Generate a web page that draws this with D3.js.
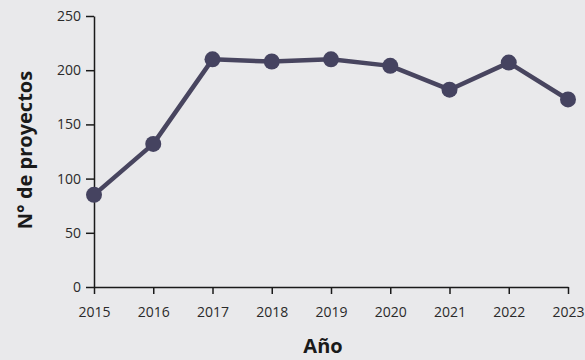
<!DOCTYPE html>
<html><head><meta charset="utf-8">
<script src="https://cdn.jsdelivr.net/npm/d3@7/dist/d3.min.js"></script>
<style>
html,body{margin:0;padding:0;background:#e9e9eb;overflow:hidden;}
svg{display:block;font-family:"Open Sans",sans-serif;}
</style></head>
<body>
<svg id="chart" width="585" height="360"></svg>
<script>
const years = [2015, 2016, 2017, 2018, 2019, 2020, 2021, 2022, 2023];
const proyectos = [85, 132, 210, 208, 210, 204, 182, 207, 173];
const yTicks = [0, 50, 100, 150, 200, 250];
const xTitle = "Año";
const yTitle = "N° de proyectos";

const svg = d3.select("#chart");
const m = {left: 94, right: 17, top: 16, bottom: 73};
const W = 585, H = 360;
const x = d3.scaleLinear().domain([2015, 2023]).range([m.left, W - m.right]);
const y = d3.scaleLinear().domain([0, 250]).range([H - m.bottom, m.top]);

const xAxis = svg.append("g").attr("transform", `translate(0,${H - m.bottom})`)
  .call(d3.axisBottom(x).tickValues(years).tickFormat(d3.format("d")).tickSize(7).tickSizeOuter(0).tickPadding(13));
const yAxis = svg.append("g").attr("transform", `translate(${m.left},0)`)
  .call(d3.axisLeft(y).tickValues(yTicks).tickSize(8).tickSizeOuter(0).tickPadding(5));
[xAxis, yAxis].forEach(g => {
  g.selectAll("path,line").attr("stroke", "#1a1a1a").attr("stroke-width", 1.5);
  g.selectAll("text").attr("fill", "#2a2a2a").attr("font-size", 14).attr("font-family", "'Open Sans',sans-serif");
});

const line = d3.line().x((d, i) => x(years[i])).y(d => y(d));
svg.append("path").datum(proyectos).attr("d", line)
  .attr("fill", "none").attr("stroke", "#48455f").attr("stroke-width", 4.5).attr("stroke-linejoin", "round");
svg.selectAll("circle.pt").data(proyectos).join("circle").attr("class", "pt")
  .attr("cx", (d, i) => x(years[i])).attr("cy", d => y(d)).attr("r", 8)
  .attr("fill", "#454360");

svg.append("text").attr("x", 323).attr("y", 353).attr("text-anchor", "middle")
  .attr("font-size", 20).attr("font-weight", "bold").attr("fill", "#1a1a1a").text(xTitle);
svg.append("text").attr("transform", "translate(32,150) rotate(-90)").attr("text-anchor", "middle")
  .attr("font-size", 20).attr("font-weight", "bold").attr("fill", "#1a1a1a").text(yTitle);
</script>
</body></html>
